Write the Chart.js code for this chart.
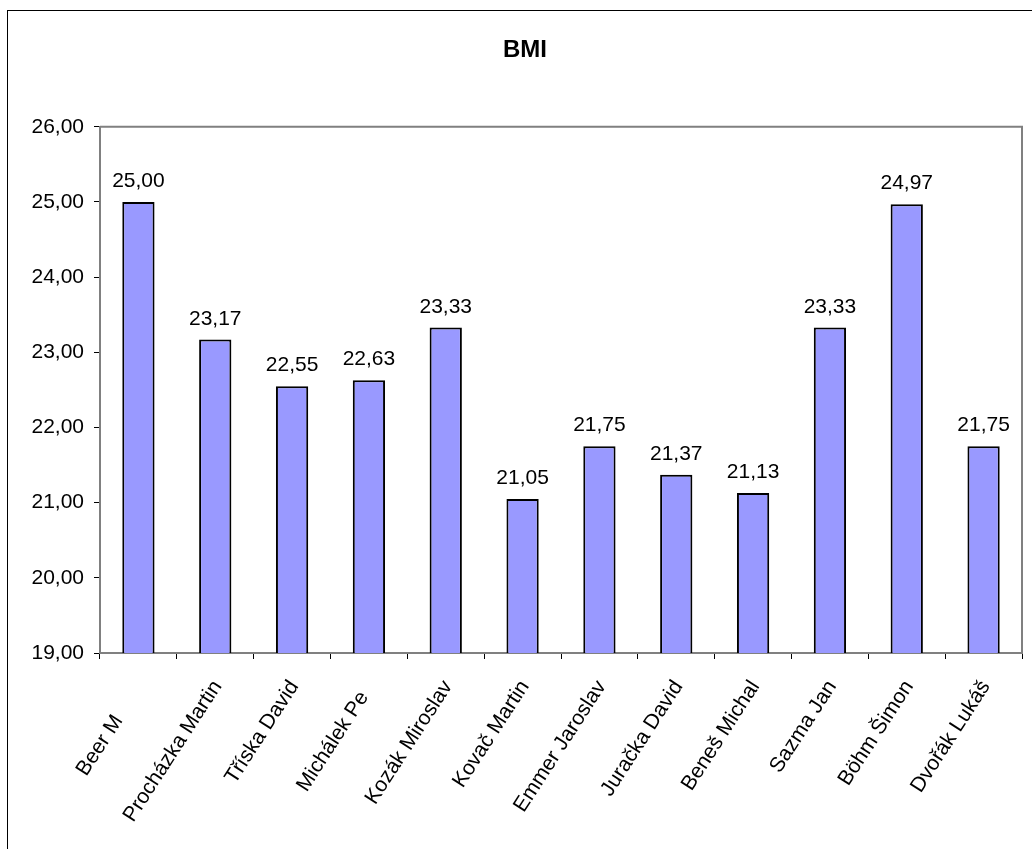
<!DOCTYPE html>
<html>
<head>
<meta charset="utf-8">
<title>BMI</title>
<script src="https://cdn.jsdelivr.net/npm/chart.js@4/dist/chart.umd.min.js"></script>
<style>
  html, body { margin: 0; padding: 0; background: #fff; }
  canvas { display: block; }
</style>
</head>
<body>
<canvas id="chart" width="1032" height="849"></canvas>
<script>
// Full names: each label is laid out from its full length
const names = [
  'Beer Martin', 'Procházka Martin', 'Tříska David', 'Michálek Petr',
  'Kozák Miroslav', 'Kovač Martin', 'Emmer Jaroslav', 'Juračka David',
  'Beneš Michal', 'Sazma Jan', 'Böhm Šimon', 'Dvořák Lukáš'
];
// Visible part of each label (long ones are cut off at the end)
const shownNames = [
  'Beer M', 'Procházka Martin', 'Tříska David', 'Michálek Pe',
  'Kozák Miroslav', 'Kovač Martin', 'Emmer Jaroslav', 'Juračka David',
  'Beneš Michal', 'Sazma Jan', 'Böhm Šimon', 'Dvořák Lukáš'
];
// BMI of each person
const bmiValues = [25.00, 23.17, 22.55, 22.63, 23.33, 21.05, 21.75, 21.37, 21.13, 23.33, 24.97, 21.75];
// Value axis range
const axisMin = 19;
const axisMax = 26;
const axisStep = 1;

const FONT = "'Liberation Sans', Arial, sans-serif";
const fmt = v => Number(v).toFixed(2).replace('.', ',');

// Outer frame and grey plot-area border
const framePlugin = {
  id: 'frame',
  beforeDraw(chart) {
    const ctx = chart.ctx;
    const a = chart.chartArea;
    ctx.save();
    ctx.fillStyle = '#fff';
    ctx.fillRect(0, 0, chart.width, chart.height);
    ctx.strokeStyle = '#000';
    ctx.lineWidth = 1;
    ctx.strokeRect(7.5, 10.5, chart.width + 40, chart.height + 40);
    ctx.strokeStyle = '#808080';
    ctx.lineWidth = 2;
    ctx.beginPath();
    ctx.moveTo(a.left, a.top);
    ctx.lineTo(a.right, a.top);
    ctx.lineTo(a.right, a.bottom);
    ctx.stroke();
    ctx.restore();
  }
};

// Value labels above each bar
const valueLabels = {
  id: 'valueLabels',
  afterDatasetsDraw(chart) {
    const ctx = chart.ctx;
    const meta = chart.getDatasetMeta(0);
    ctx.save();
    ctx.font = '21px ' + FONT;
    ctx.fillStyle = '#000';
    ctx.textAlign = 'center';
    ctx.textBaseline = 'alphabetic';
    meta.data.forEach((bar, i) => {
      ctx.fillText(fmt(chart.data.datasets[0].data[i]), bar.x, bar.y - 15);
    });
    ctx.restore();
  }
};

// Slanted category names, ending just under each category centre
const slantedNames = {
  id: 'slantedNames',
  afterDraw(chart) {
    const ctx = chart.ctx;
    const xs = chart.scales.x;
    const angle = -57 * Math.PI / 180;
    ctx.save();
    ctx.font = '21px ' + FONT;
    ctx.fillStyle = '#000';
    ctx.textAlign = 'left';
    ctx.textBaseline = 'alphabetic';
    chart.data.labels.forEach((name, i) => {
      const x = xs.getPixelForTick(i);
      const fullWidth = ctx.measureText(name).width;
      ctx.save();
      ctx.translate(x + 7, xs.top + 33);
      ctx.rotate(angle);
      ctx.fillText(shownNames[i], -fullWidth, 0);
      ctx.restore();
    });
    ctx.restore();
  }
};

new Chart(document.getElementById('chart'), {
  type: 'bar',
  data: {
    labels: names,
    datasets: [{
      label: 'BMI',
      data: bmiValues,
      backgroundColor: '#9999FF',
      borderColor: '#000',
      borderWidth: 2,
      borderSkipped: false,
      barPercentage: 0.42,
      categoryPercentage: 1.0
    }]
  },
  options: {
    responsive: false,
    animation: false,
    layout: { padding: { left: 28, right: 10, top: 0, bottom: 0 } },
    plugins: {
      legend: { display: false },
      tooltip: { enabled: false },
      title: {
        display: true,
        text: 'BMI',
        color: '#000',
        font: { family: FONT, size: 24, weight: 'bold', lineHeight: 1.2 },
        padding: { top: 36, bottom: 62 }
      }
    },
    scales: {
      x: {
        offset: true,
        grid: {
          offset: true,
          drawOnChartArea: false,
          tickLength: 6,
          tickColor: '#000',
          tickWidth: 1
        },
        border: { color: '#808080', width: 2 },
        ticks: { display: false, autoSkip: false },
        afterFit(scale) { scale.height = 196; }
      },
      y: {
        min: axisMin,
        max: axisMax,
        grid: {
          drawOnChartArea: false,
          tickLength: 6,
          tickColor: '#000',
          tickWidth: 1
        },
        border: { color: '#808080', width: 2 },
        ticks: {
          stepSize: axisStep,
          padding: 10,
          color: '#000',
          font: { family: FONT, size: 21 },
          callback: v => fmt(v)
        },
        afterFit(scale) { scale.width = 72; }
      }
    }
  },
  plugins: [framePlugin, valueLabels, slantedNames]
});
</script>
</body>
</html>
